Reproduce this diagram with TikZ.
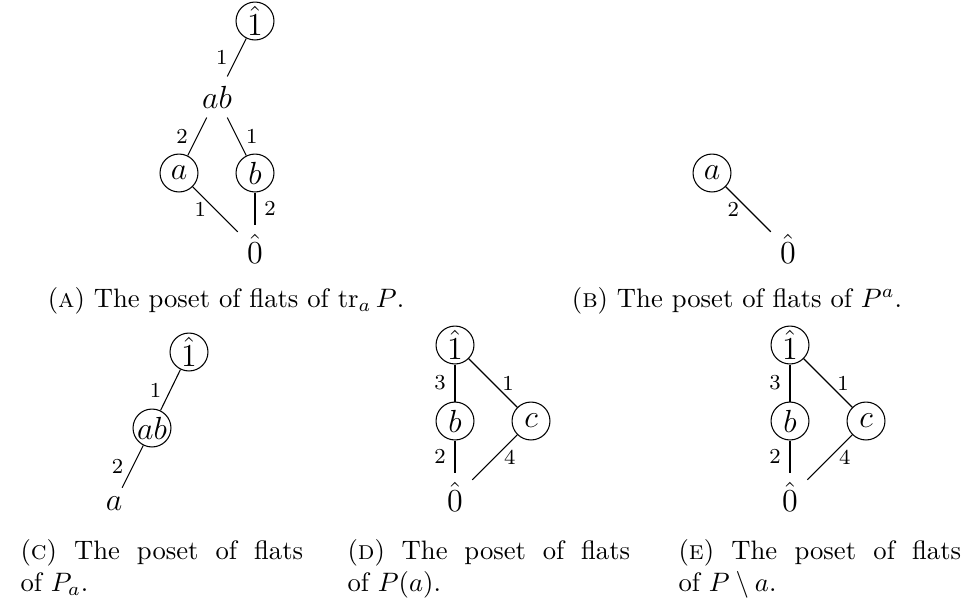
\documentclass[tikz,border=0pt]{standalone}
\usepackage{amsmath,amssymb}
\usepackage{tikz}
\usetikzlibrary{positioning}

\begin{document}
\begin{tikzpicture}[
    x=0.375pt, y=-0.375pt,
    every node/.style={font=\large},
    flat/.style={circle, draw, inner sep=0pt, minimum size=5mm},
    lab/.style={font=\footnotesize},
    capline/.style={anchor=base, inner sep=0pt, font=\normalsize},
    capbox/.style={anchor=base west, inner sep=0pt, text width=106pt, align=justify, font=\normalsize}
]
\useasboundingbox (0,0) rectangle (970,608);

% (a) flats of the truncation
\node[flat] (topA) at (255,21) {$\hat{1}$};
\node (abA) at (217,97) {$ab$};
\node[flat] (aA) at (179,173) {$a$};
\node[flat] (bA) at (255,173) {$b$};
\node (botA) at (255,249) {$\hat{0}$};

\draw (topA) -- node[lab, left] {1} (abA);
\draw (abA) -- node[lab, left] {2} (aA);
\draw (abA) -- node[lab, right] {1} (bA);
\draw (aA) -- node[lab, left] {1} (botA);
\draw (bA) -- node[lab, right] {2} (botA);

\node[capline] (capA) at (226,307) {(\textsc{a})\ The poset of flats of $\operatorname{tr}_a P$.};

% (b) flats of the restriction
\node[flat] (aB) at (712,173) {$a$};
\node (botB) at (788,249) {$\hat{0}$};

\draw (aB) -- node[lab, left] {2} (botB);

\node[capline] (capB) at (737,307) {(\textsc{b})\ The poset of flats of $P^a$.};

% (c) flats of the contraction
\node[flat] (topC) at (189,352) {$\hat{1}$};
\node[flat] (abC) at (152,428) {$ab$};
\node (aC) at (114,504) {$a$};

\draw (topC) -- node[lab, left] {1} (abC);
\draw (abC) -- node[lab, left] {2} (aC);

\node[capbox] (capC) at (20,559) {(\textsc{c})\ The poset of flats\linebreak of $P_a$.};

% (d) flats of P(a)
\node[flat] (topD) at (455,345) {$\hat{1}$};
\node[flat] (bD) at (455,421) {$b$};
\node[flat] (cD) at (531,421) {$c$};
\node (botD) at (455,497) {$\hat{0}$};

\draw (topD) -- node[lab, left] {3} (bD);
\draw (topD) -- node[lab, right] {1} (cD);
\draw (bD) -- node[lab, left] {2} (botD);
\draw (cD) -- node[lab, right] {4} (botD);

\node[capbox] (capD) at (347,559) {(\textsc{d})\ The poset of flats\linebreak of $P(a)$.};

% (e) flats of the deletion
\node[flat] (topE) at (790,345) {$\hat{1}$};
\node[flat] (bE) at (790,421) {$b$};
\node[flat] (cE) at (866,421) {$c$};
\node (botE) at (790,497) {$\hat{0}$};

\draw (topE) -- node[lab, left] {3} (bE);
\draw (topE) -- node[lab, right] {1} (cE);
\draw (bE) -- node[lab, left] {2} (botE);
\draw (cE) -- node[lab, right] {4} (botE);

\node[capbox] (capE) at (678,559) {(\textsc{e})\ The poset of flats\linebreak of $P \setminus a$.};

\end{tikzpicture}
\end{document}
